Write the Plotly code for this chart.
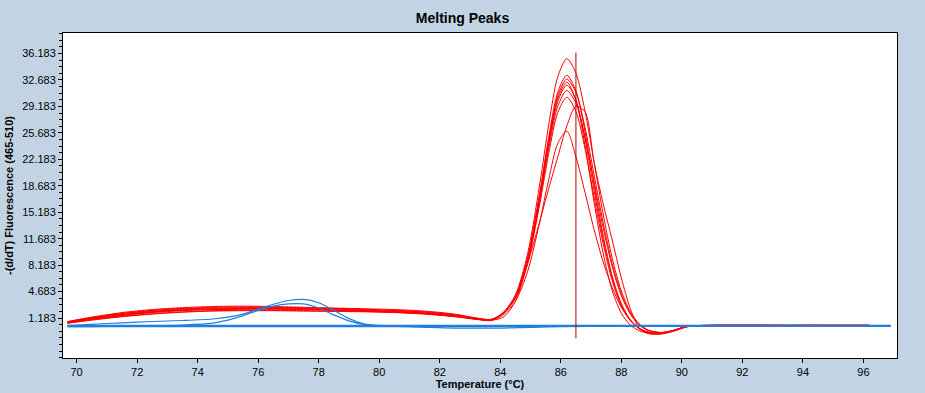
import plotly.graph_objects as go

# ---------------- data ----------------
T_RED = [69.7, 70.5, 71.5, 72.5, 73.5, 74.5, 75.5, 76.5, 77.5, 78.5, 79.5, 80.5, 81.5, 82.5,
         83.2, 83.7, 84.1, 84.5, 84.9, 85.3, 85.6, 85.9, 86.2, 86.5, 86.8, 87.1, 87.4, 87.7,
         88.0, 88.3, 88.6, 88.9, 89.3, 89.7, 90.2, 91.0, 92.5, 94.0, 96.2]

RED_1 = [0.7, 1.3, 1.9, 2.3, 2.55, 2.7, 2.75, 2.7, 2.6, 2.5, 2.4, 2.3, 2.1, 1.7, 1.2, 1.0,
         1.93, 4.26, 9.62, 18.79, 26.74, 33.12, 35.5, 33.58, 28.58, 21.8, 14.95, 9.08, 4.76,
         1.99, 0.37, -0.43, -0.73, -0.5, 0.1, 0.2, 0.25, 0.2, 0.2]
RED_2 = [0.6, 1.1, 1.6, 2.0, 2.25, 2.35, 2.4, 2.4, 2.35, 2.25, 2.15, 2.0, 1.8, 1.45, 1.1, 0.95,
         1.88, 4.05, 9.07, 17.66, 25.1, 31.07, 33.3, 31.23, 25.85, 18.83, 12.1, 6.72, 3.08,
         0.95, -0.19, -0.69, -0.85, -0.5, 0.1, 0.15, 0.15, 0.2, 0.15]
RED_3 = [0.65, 1.2, 1.75, 2.15, 2.4, 2.5, 2.55, 2.55, 2.5, 2.4, 2.3, 2.15, 1.95, 1.55, 1.15, 0.95,
         1.86, 4.0, 8.94, 17.4, 24.73, 30.6, 32.8, 31.02, 26.4, 20.13, 13.79, 8.36, 4.36,
         1.79, 0.28, -0.46, -0.74, -0.55, 0.05, 0.25, 0.2, 0.25, 0.2]
RED_4 = [0.55, 1.0, 1.5, 1.9, 2.15, 2.3, 2.35, 2.35, 2.3, 2.2, 2.1, 1.95, 1.75, 1.4, 1.05, 0.9,
         1.85, 3.97, 8.84, 17.2, 24.43, 30.24, 32.4, 30.04, 24.03, 16.5, 9.76, 4.81, 1.82,
         0.25, -0.52, -0.82, -0.9, -0.55, 0.05, 0.15, 0.2, 0.15, 0.2]
RED_5 = [0.6, 1.15, 1.65, 2.05, 2.3, 2.4, 2.45, 2.45, 2.4, 2.3, 2.2, 2.05, 1.85, 1.5, 1.1, 0.95,
         1.84, 3.93, 8.74, 16.99, 24.14, 29.86, 32.0, 30.01, 24.84, 18.09, 11.62, 6.45, 2.94,
         0.89, -0.21, -0.7, -0.85, -0.5, 0.1, 0.2, 0.15, 0.2, 0.25]
RED_6 = [0.5, 0.95, 1.4, 1.75, 2.0, 2.15, 2.2, 2.2, 2.15, 2.1, 2.05, 1.95, 1.75, 1.4, 1.05, 0.9,
         1.82, 3.86, 8.57, 16.63, 23.62, 29.21, 31.3, 29.6, 25.19, 19.2, 13.15, 7.96, 4.14,
         1.68, 0.23, -0.48, -0.75, -0.5, 0.1, 0.2, 0.15, 0.2, 0.2]
RED_7 = [0.7, 1.25, 1.8, 2.2, 2.45, 2.6, 2.65, 2.6, 2.55, 2.45, 2.35, 2.2, 2.0, 1.6, 1.15, 1.0,
         1.8, 3.78, 8.35, 16.17, 22.95, 28.38, 30.4, 28.51, 23.59, 17.17, 11.03, 6.11, 2.77,
         0.81, -0.24, -0.71, -0.85, -0.5, 0.1, 0.2, 0.25, 0.2, 0.2]
RED_8 = [0.5, 0.9, 1.35, 1.7, 1.95, 2.1, 2.15, 2.15, 2.1, 2.05, 2.0, 1.9, 1.7, 1.35, 1.0, 0.85,
         1.6, 3.4, 7.3, 13.8, 19.5, 24.3, 25.9, 22.5, 17.8, 12.9, 8.6, 5.2, 2.6,
         0.9, -0.3, -0.8, -0.8, -0.45, 0.1, 0.2, 0.2, 0.2, 0.2]
RED_9 = [0.55, 1.05, 1.55, 1.95, 2.2, 2.35, 2.4, 2.4, 2.35, 2.25, 2.15, 2.0, 1.8, 1.45, 1.05, 0.9,
         1.3, 3.4, 8.3, 13.9, 18.3, 22.5, 26.6, 29.2, 28.5, 21.8, 16.3, 11.5, 6.5,
         2.4, -0.2, -0.9, -0.95, -0.6, 0.05, 0.2, 0.2, 0.2, 0.2]
RED_SERIES = [RED_1, RED_2, RED_3, RED_4, RED_5, RED_6, RED_7, RED_8, RED_9]

T_BLUE = [69.7, 70.5, 71.5, 72.5, 73.5, 74.5, 75.0, 75.5, 76.0, 76.5, 77.0, 77.5, 78.0, 78.5,
          79.0, 79.5, 80.0, 81.0, 82.5, 84.0, 86.0, 88.0, 90.0, 92.0, 94.0, 96.9]
BLUE_1 = [0.17, 0.35, 0.55, 0.72, 0.85, 1.05, 1.3, 1.7, 2.35, 3.0, 3.5, 3.65, 3.2, 2.2,
          1.1, 0.4, 0.2, 0.15, 0.1, 0.1, 0.15, 0.15, 0.15, 0.15, 0.15, 0.15]
BLUE_2 = [0.05, 0.05, 0.1, 0.15, 0.25, 0.5, 0.9, 1.5, 2.2, 2.75, 3.05, 3.05, 2.5, 1.6,
          0.8, 0.3, 0.15, 0.1, 0.05, 0.05, 0.1, 0.1, 0.1, 0.1, 0.1, 0.1]
BLUE_3 = [0.15, 0.15, 0.17, 0.17, 0.17, 0.15, 0.15, 0.15, 0.15, 0.15, 0.15, 0.15, 0.15, 0.15,
          0.15, 0.15, 0.15, 0.15, 0.15, 0.15, 0.17, 0.17, 0.17, 0.15, 0.15, 0.15]
BLUE_4 = [0.05, 0.05, 0.05, 0.05, 0.05, 0.05, 0.05, 0.05, 0.05, 0.05, 0.05, 0.05, 0.05, 0.05,
          0.05, 0.05, 0.05, 0.0, -0.15, -0.15, 0.05, 0.1, 0.1, 0.1, 0.1, 0.1]
BLUE_5 = [0.2, 0.2, 0.2, 0.2, 0.2, 0.2, 0.2, 0.2, 0.2, 0.2, 0.2, 0.2, 0.2, 0.2,
          0.2, 0.2, 0.2, 0.2, 0.2, 0.2, 0.2, 0.2, 0.2, 0.2, 0.2, 0.2]
BLUE_SERIES = [BLUE_1, BLUE_2, BLUE_3, BLUE_4, BLUE_5]

CURSOR_X = [86.5, 86.5]
CURSOR_Y = [36.3, -1.5]

X_TICKS = [70, 72, 74, 76, 78, 80, 82, 84, 86, 88, 90, 92, 94, 96]
Y_TICKS = [1.183, 4.683, 8.183, 11.683, 15.183, 18.683, 22.183, 25.683, 29.183, 32.683, 36.183]
Y_TICK_TEXT = ["1.183", "4.683", "8.183", "11.683", "15.183", "18.683", "22.183",
               "25.683", "29.183", "32.683", "36.183"]

# ---------------- styles ----------------
BG = "#C2D4E4"
RED = "#FF0000"
BLUE = "#1F7FE0"
FONT = "Liberation Sans, Arial, sans-serif"

fig = go.Figure()
for ys in RED_SERIES:
    fig.add_trace(go.Scatter(x=T_RED, y=ys, mode="lines",
                             line=dict(color=RED, width=1, shape="spline", smoothing=0.8),
                             hoverinfo="skip"))
for ys in BLUE_SERIES:
    fig.add_trace(go.Scatter(x=T_BLUE, y=ys, mode="lines",
                             line=dict(color=BLUE, width=1.2, shape="spline", smoothing=0.8),
                             hoverinfo="skip"))
fig.add_trace(go.Scatter(x=CURSOR_X, y=CURSOR_Y, mode="lines",
                         line=dict(color="#B00000", width=1), hoverinfo="skip"))

axis_common = dict(showline=True, mirror=True, linecolor="black", linewidth=1,
                   showgrid=False, zeroline=False, ticks="outside", ticklen=4,
                   tickcolor="black", automargin=False,
                   tickfont=dict(family=FONT, size=11, color="black"))

fig.update_layout(
    width=925, height=393,
    margin=dict(l=63, r=28, t=33, b=35),
    paper_bgcolor=BG, plot_bgcolor="white",
    showlegend=False,
    title=dict(text="<b>Melting Peaks</b>", x=0.5, xref="container", xanchor="center",
               y=1 - 18 / 393, yref="container", yanchor="middle",
               font=dict(family=FONT, size=14, color="black")),
    xaxis=dict(range=[69.55, 97.11], tickmode="array", tickvals=X_TICKS,
               title=dict(text="<b>Temperature (°C)</b>", standoff=2,
                          font=dict(family=FONT, size=11, color="black")),
               **axis_common),
    yaxis=dict(range=[-4.11, 38.9], tickmode="array", tickvals=Y_TICKS, ticktext=Y_TICK_TEXT,
               minor=dict(tick0=1.183, dtick=0.875, ticks="outside", ticklen=3,
                          tickcolor="black", showgrid=False),
               title=dict(text="<b>-(d/dT) Fluorescence (465-510)</b>", standoff=6,
                          font=dict(family=FONT, size=11, color="black")),
               **axis_common),
)

fig.write_html(
    "out.html",
    config={"displayModeBar": False},
    post_script="document.body.style.margin='0px';document.body.style.overflow='hidden';"
                "document.body.style.background='" + BG + "';",
)
